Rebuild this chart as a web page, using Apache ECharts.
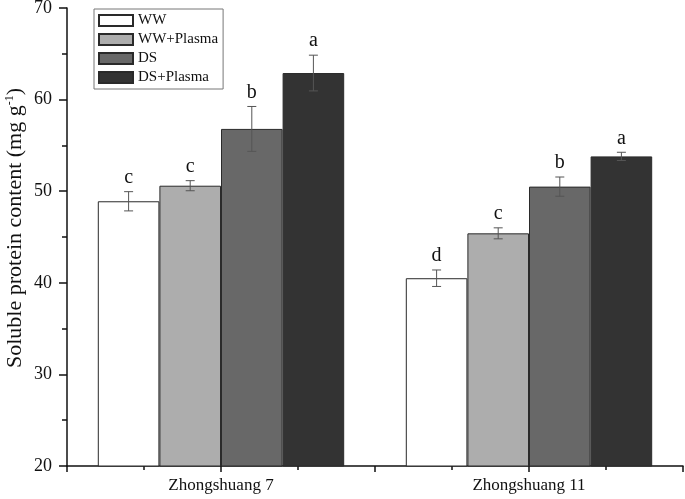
<!DOCTYPE html>
<html>
<head>
<meta charset="utf-8">
<script src="https://cdn.jsdelivr.net/npm/echarts@6/dist/echarts.min.js"></script>
<style>html,body{margin:0;padding:0;background:#fff}#c{width:685px;height:499px}</style>
</head>
<body>
<div id="c"></div>
<script>
var categories = ['Zhongshuang 7', 'Zhongshuang 11'];
var seriesNames = ['WW', 'WW+Plasma', 'DS', 'DS+Plasma'];
var wwValues = [48.9, 40.5];
var wwErrors = [1.05, 0.9];
var wwLetters = ['c', 'd'];
var wwPlasmaValues = [50.6, 45.4];
var wwPlasmaErrors = [0.55, 0.6];
var wwPlasmaLetters = ['c', 'c'];
var dsValues = [56.8, 50.5];
var dsErrors = [2.45, 1.05];
var dsLetters = ['b', 'b'];
var dsPlasmaValues = [62.9, 53.8];
var dsPlasmaErrors = [1.95, 0.45];
var dsPlasmaLetters = ['a', 'a'];
var yTicks = [20, 30, 40, 50, 60, 70];
var yTitle = 'Soluble protein content (mg g';

var values = [wwValues, wwPlasmaValues, dsValues, dsPlasmaValues];
var errors = [wwErrors, wwPlasmaErrors, dsErrors, dsPlasmaErrors];
var letters = [wwLetters, wwPlasmaLetters, dsLetters, dsPlasmaLetters];
var colors = ['#ffffff', '#adadad', '#686868', '#333333'];
var FONT = '"Liberation Serif", "DejaVu Serif", serif';

var series = [];
seriesNames.forEach(function (name, i) {
  series.push({
    name: name, type: 'bar', xAxisIndex: 0, data: values[i],
    barGap: '0%', barCategoryGap: '20%',
    itemStyle: { color: colors[i], borderColor: '#2a2a2a', borderWidth: 1 },
    silent: true
  });
});
seriesNames.forEach(function (name, i) {
  series.push({
    type: 'custom', xAxisIndex: 0, z: 5, silent: true,
    data: values[i].map(function (v, k) { return [k, v, errors[i][k], letters[i][k]]; }),
    renderItem: function (params, api) {
      var k = api.value(0), v = api.value(1), e = api.value(2);
      var catW = api.size([1, 0])[0];
      var bw = catW * 0.8 / 4;
      var c = api.coord([k, v]);
      var x = c[0] + (i - 1.5) * bw;
      var top = api.coord([k, v + e])[1];
      var bot = api.coord([k, v - e])[1];
      var cap = 4.5;
      var st = { stroke: '#555', lineWidth: 1 };
      return {
        type: 'group',
        children: [
          { type: 'line', shape: { x1: x, y1: top, x2: x, y2: bot }, style: st },
          { type: 'line', shape: { x1: x - cap, y1: top, x2: x + cap, y2: top }, style: st },
          { type: 'line', shape: { x1: x - cap, y1: bot, x2: x + cap, y2: bot }, style: st },
          { type: 'text', x: x, y: top - 4, style: { text: letters[i][k], font: '20px ' + FONT, fill: '#111', align: 'center', verticalAlign: 'bottom' } }
        ]
      };
    }
  });
});

var chart = echarts.init(document.getElementById('c'));
chart.setOption({
  animation: false,
  backgroundColor: '#fff',
  grid: { left: 67, right: 2, top: 8, bottom: 33, containLabel: false, outerBoundsMode: 'none' },
  legend: {
    data: seriesNames, orient: 'vertical', left: 94, top: 9,
    itemWidth: 34, itemHeight: 11, itemGap: 4,
    padding: [4, 5, 4, 4], borderColor: '#777', borderWidth: 1,
    textStyle: { fontFamily: FONT, fontSize: 15, color: '#111' },
    icon: 'rect', selectedMode: false
  },
  xAxis: [
    { type: 'category', data: categories, position: 'bottom',
      axisLine: { lineStyle: { color: '#111', width: 1.5 } },
      axisTick: { show: false },
      axisLabel: { fontFamily: FONT, fontSize: 17, color: '#111', margin: 11 } },
    { type: 'value', min: 0, max: 4, interval: 1, position: 'bottom',
      axisLine: { show: false }, axisLabel: { show: false }, splitLine: { show: false },
      axisTick: { show: true, length: 6, lineStyle: { color: '#111', width: 1.5 } },
      minorTick: { show: true, splitNumber: 2, length: 4, lineStyle: { color: '#111', width: 1.5 } } }
  ],
  yAxis: {
    type: 'value', min: yTicks[0], max: yTicks[yTicks.length - 1], interval: 10,
    axisLine: { show: true, lineStyle: { color: '#111', width: 1.5 } },
    axisTick: { show: true, length: 8, lineStyle: { color: '#111', width: 1.5 } },
    minorTick: { show: true, splitNumber: 2, length: 5, lineStyle: { color: '#111', width: 1.5 } },
    splitLine: { show: false },
    axisLabel: { fontFamily: FONT, fontSize: 18, color: '#111', margin: 15 }
  },
  graphic: [{
    type: 'text', x: 15, y: 228, rotation: Math.PI / 2,
    style: {
      text: '{a|' + yTitle + '}{s|-1}{a|)}',
      align: 'center', verticalAlign: 'middle',
      rich: {
        a: { fontFamily: FONT, fontSize: 22, fill: '#111' },
        s: { fontFamily: FONT, fontSize: 12, fill: '#111', verticalAlign: 'top', padding: [0, 0, 11, 0] }
      }
    }
  }],
  series: series
});
</script>
</body>
</html>
